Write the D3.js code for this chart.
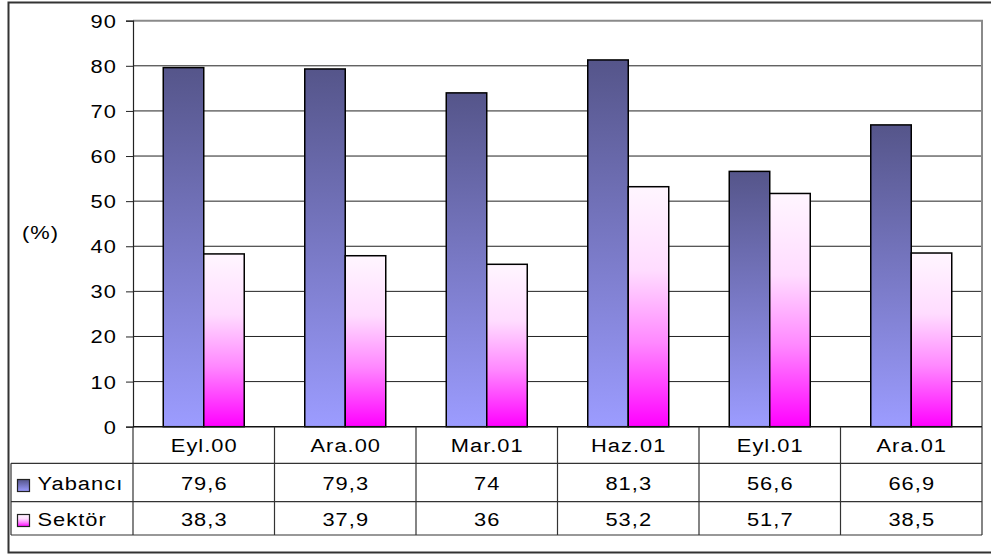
<!DOCTYPE html>
<html>
<head>
<meta charset="utf-8">
<script src="https://cdn.jsdelivr.net/npm/d3@7/dist/d3.min.js"></script>
<style>
  html, body { margin: 0; padding: 0; background: #fff; }
  svg { display: block; }
  text.lbl { font-family: "Liberation Sans", Arial, sans-serif; font-size: 19px; fill: #000; letter-spacing: 0.9px; }
</style>
</head>
<body>
<script>
// Period labels, series names and values
const categories = ["Eyl.00", "Ara.00", "Mar.01", "Haz.01", "Eyl.01", "Ara.01"];
const seriesNames = ["Yabancı", "Sektör"];
const yabanci = [79.6, 79.3, 74, 81.3, 56.6, 66.9];
const sektor = [38.3, 37.9, 36, 53.2, 51.7, 38.5];
const valueLabels = [
  ["79,6", "79,3", "74", "81,3", "56,6", "66,9"],
  ["38,3", "37,9", "36", "53,2", "51,7", "38,5"]
];
const yTicks = [0, 10, 20, 30, 40, 50, 60, 70, 80, 90];

const W = 991, H = 554;
const plot = { left: 133, right: 982, top: 20.7, bottom: 426.7 };
const table = { left: 11, rows: [426.7, 463.3, 501.7, 535] };
const stretch = 1.15; // labels are set slightly wide

const svg = d3.select("body").append("svg").attr("width", W).attr("height", H);
const defs = svg.append("defs");

const gBlue = defs.append("linearGradient").attr("id", "gBlue").attr("x1", 0).attr("y1", 0).attr("x2", 0).attr("y2", 1);
gBlue.append("stop").attr("offset", "0%").attr("stop-color", "#55558a");
gBlue.append("stop").attr("offset", "100%").attr("stop-color", "#9c9cff");

const gPink = defs.append("linearGradient").attr("id", "gPink").attr("x1", 0).attr("y1", 0).attr("x2", 0).attr("y2", 1);
gPink.append("stop").attr("offset", "0%").attr("stop-color", "#fff6ff");
gPink.append("stop").attr("offset", "35%").attr("stop-color", "#ffdcff");
gPink.append("stop").attr("offset", "65%").attr("stop-color", "#ff88ff");
gPink.append("stop").attr("offset", "100%").attr("stop-color", "#ff00ff");

const fills = ["url(#gBlue)", "url(#gPink)"];
const seriesData = [yabanci, sektor];

function label(parent, x, y, str, anchor) {
  return parent.append("text").attr("class", "lbl")
    .attr("transform", `translate(${x},${y}) scale(${stretch},1)`)
    .attr("text-anchor", anchor || "start")
    .text(str);
}

// Outer frame (right edge runs off the page)
svg.append("rect")
  .attr("x", 8.5).attr("y", 2.5).attr("width", 1000).attr("height", 550)
  .attr("fill", "none").attr("stroke", "#333").attr("stroke-width", 2);

const x = d3.scaleBand().domain(categories).range([plot.left, plot.right]).paddingInner(0).paddingOuter(0);
const groupW = 81;
const xs = d3.scaleBand().domain(seriesNames).range([0, groupW]);
const y = d3.scaleLinear().domain([0, 90]).range([plot.bottom, plot.top]);

// Gridlines
svg.append("g").selectAll("line").data(yTicks.filter(t => t > 0 && t < 90)).join("line")
  .attr("x1", plot.left).attr("x2", plot.right)
  .attr("y1", d => y(d)).attr("y2", d => y(d))
  .attr("stroke", "#222").attr("stroke-width", 1);

// Plot area border (top and right)
svg.append("path")
  .attr("d", `M${plot.left},${plot.top}H${plot.right}V${plot.bottom}`)
  .attr("fill", "none").attr("stroke", "#8a8a8a").attr("stroke-width", 2);

// Bars
const groups = svg.append("g").selectAll("g").data(categories).join("g")
  .attr("transform", d => `translate(${x(d) + (x.bandwidth() - groupW) / 2},0)`);
groups.selectAll("rect").data((c, i) => seriesNames.map((s, k) => ({ s, k, v: seriesData[k][i] }))).join("rect")
  .attr("x", d => xs(d.s))
  .attr("y", d => y(d.v))
  .attr("width", xs.bandwidth())
  .attr("height", d => y(0) - y(d.v))
  .attr("fill", d => fills[d.k])
  .attr("stroke", "#000").attr("stroke-width", 1.5);

// Y axis line and ticks
const yAxis = svg.append("g").attr("transform", `translate(${plot.left},0)`)
  .call(d3.axisLeft(y).tickValues(yTicks).tickSize(7).tickFormat(""));
yAxis.select(".domain").attr("stroke", "#222").attr("stroke-width", 1.2);
yAxis.selectAll(".tick line").attr("stroke", "#222");

// Y tick labels
const yLab = svg.append("g");
yTicks.forEach(t => label(yLab, 117, y(t) + 7, String(t), "end"));

// Unit label
label(svg, 22, 239, "(%)");

// X axis baseline
svg.append("line").attr("x1", plot.left).attr("x2", plot.right).attr("y1", plot.bottom).attr("y2", plot.bottom)
  .attr("stroke", "#111").attr("stroke-width", 1.5);

// Data table grid
const tg = svg.append("g").attr("stroke", "#333").attr("stroke-width", 1.2);
table.rows.slice(1).forEach(ry => {
  tg.append("line").attr("x1", table.left).attr("x2", plot.right).attr("y1", ry).attr("y2", ry);
});
tg.append("line").attr("x1", table.left).attr("x2", table.left).attr("y1", table.rows[1]).attr("y2", table.rows[3]);
categories.forEach(c => {
  tg.append("line").attr("x1", x(c)).attr("x2", x(c)).attr("y1", table.rows[0]).attr("y2", table.rows[3]);
});
tg.append("line").attr("x1", plot.right).attr("x2", plot.right).attr("y1", table.rows[0]).attr("y2", table.rows[3]);

// Category headers
const hdr = svg.append("g");
categories.forEach(c => label(hdr, x(c) + x.bandwidth() / 2 + 0.5, 452, c, "middle"));

// Value rows
const rowBase = [490, 526];
valueLabels.forEach((row, k) => {
  const g = svg.append("g");
  row.forEach((v, i) => label(g, x(categories[i]) + x.bandwidth() / 2 + 0.5, rowBase[k], v, "middle"));
});

// Legend keys and series names
const keyTop = [479.5, 514.5];
seriesNames.forEach((s, k) => {
  svg.append("rect").attr("x", 17.5).attr("y", keyTop[k]).attr("width", 12).attr("height", 12)
    .attr("fill", fills[k]).attr("stroke", "#222").attr("stroke-width", 1.2);
  label(svg, 37.5, rowBase[k], s);
});
</script>
</body>
</html>
